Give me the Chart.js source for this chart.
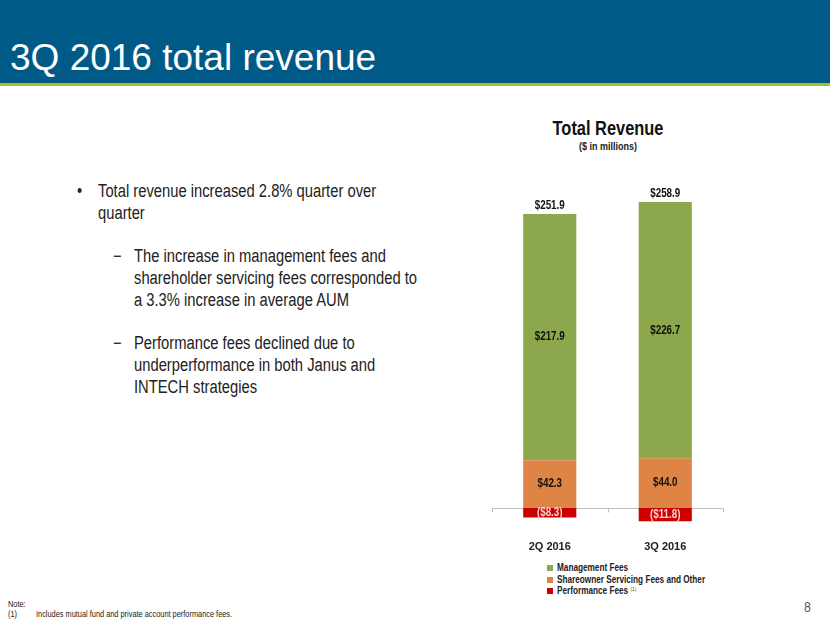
<!DOCTYPE html>
<html><head><meta charset="utf-8">
<script src="https://cdn.jsdelivr.net/npm/chart.js@4.4.1/dist/chart.umd.min.js"></script>
<style>
html,body{margin:0;padding:0;background:#fff;}
body{width:830px;height:623px;position:relative;overflow:hidden;font-family:'Liberation Sans',Arial,sans-serif;}
#hdr{position:absolute;left:0;top:0;width:830px;height:83px;background:#005A87;}
#hdrline{position:absolute;left:0;top:83px;width:830px;height:3px;background:#A6BD2E;}
#title{position:absolute;left:10px;top:39px;color:#fff;font-size:37px;line-height:37px;white-space:nowrap;}
.n{position:absolute;white-space:nowrap;transform-origin:0 50%;}
.c{transform-origin:50% 50%;text-align:center;}
.body{font-size:18px;line-height:22px;height:22px;color:#222;}
.leg{font-size:10px;line-height:12px;font-weight:bold;color:#222;}
.sq{position:absolute;width:6px;height:6px;}
.foot{font-size:9px;line-height:12px;color:#222;}
sup{font-size:6px;font-weight:normal;color:#555;vertical-align:top;position:relative;top:-2px;}
canvas{position:absolute;left:0;top:0;}
</style></head>
<body>
<div id="hdr"></div><div id="hdrline"></div>
<div id="title">3Q 2016 total revenue</div>
<div id="texts"></div>
<canvas id="chart" width="830" height="623"></canvas>
<script>
// ---- data ----
const categories = ['2Q 2016', '3Q 2016'];
const managementFees = [217.9, 226.7];
const shareownerFees = [42.3, 44.0];
const performanceFees = [-8.3, -11.8];
const seriesNames = ['Management Fees', 'Shareowner Servicing Fees and Other', 'Performance Fees'];
const seriesColors = ['#8DA74C', '#DE8445', '#CC0000'];
const chartTitle = 'Total Revenue';
const chartSubtitle = '($ in millions)';
const yMin = -20, yMax = 280;

// ---- font detection ----
function hasFont(name){
  const c=document.createElement('canvas').getContext('2d');
  const s='abcdefghijklmnopqrstuvwxyz0123456789';
  c.font='40px monospace'; const a=c.measureText(s).width;
  c.font="40px '"+name+"', monospace"; const b=c.measureText(s).width;
  return Math.abs(a-b)>1;
}
const narrow = hasFont('Liberation Sans Narrow');
const NF = narrow ? "'Liberation Sans Narrow'" : "'Liberation Sans'";
const NS = narrow ? 1 : 0.82;

// ---- HTML text ----
const T = document.getElementById('texts');
function addText(txt, cls, left, top, extra){
  const d=document.createElement('div');
  d.className='n '+cls; d.innerHTML=txt;
  d.style.left=left+'px'; d.style.top=top+'px';
  d.style.fontFamily=NF+',Arial,sans-serif';
  const sc = (extra && extra.noScale) ? 1 : NS;
  d.style.transform='scaleX('+sc+')';
  if(extra && extra.width){ d.style.width=extra.width+'px'; }
  if(extra && extra.style){ Object.assign(d.style, extra.style); }
  T.appendChild(d); return d;
}
const bodyLines = [
  ['\u2022', 77, 'Total revenue increased 2.8% quarter over', 98, 180],
  [null, 0, 'quarter', 98, 202],
  ['\u2212', 113, 'The increase in management fees and', 134, 245],
  [null, 0, 'shareholder servicing fees corresponded to', 134, 267],
  [null, 0, 'a 3.3% increase in average AUM', 134, 289],
  ['\u2212', 113, 'Performance fees declined due to', 134, 332],
  [null, 0, 'underperformance in both Janus and', 134, 354],
  [null, 0, 'INTECH strategies', 134, 376]
];
bodyLines.forEach(l=>{
  if(l[0]) addText(l[0],'body',l[1],l[4]);
  addText(l[2],'body',l[3],l[4]);
});
addText(chartTitle,'c',508,116,{width:200,style:{fontSize:'20px',lineHeight:'24px',fontWeight:'bold',color:'#111'}});
addText(chartSubtitle,'c',508,139,{width:200,style:{fontSize:'11px',lineHeight:'14px',fontWeight:'bold',color:'#222'}});
const legOrder=[0,1,2], legTops=[562,574,585];
legOrder.forEach((k,i)=>{
  const s=document.createElement('div'); s.className='sq';
  s.style.left='547px'; s.style.top=(legTops[i]+3)+'px'; s.style.background=seriesColors[k];
  T.appendChild(s);
  addText(seriesNames[k]+(k===2?' <sup>(1)</sup>':''),'leg',557,legTops[i]);
});
addText('Note:','foot',8,598);
addText('(1)','foot',8,608);
addText('Includes mutual fund and private account performance fees.','foot',36,608);
addText('8','',804,598,{style:{fontSize:'15px',lineHeight:'18px',color:'#595959'}});

// ---- chart ----
function fmt(v){ return v>=0 ? '$'+v.toFixed(1) : '($'+(-v).toFixed(1)+')'; }
function drawNarrow(ctx, txt, x, y, color, size){
  ctx.save();
  ctx.font='bold '+(size||12)+'px '+NF+', Arial, sans-serif';
  ctx.fillStyle=color; ctx.textAlign='center'; ctx.textBaseline='middle';
  ctx.translate(x,y); ctx.scale(NS,1); ctx.fillText(txt,0,0);
  ctx.restore();
}
const axisPlugin = {
  id:'zeroAxis',
  beforeDatasetsDraw(chart){
    const ctx=chart.ctx, xs=chart.scales.x, ys=chart.scales.y;
    const y0=Math.round(ys.getPixelForValue(0))+0.5;
    ctx.save(); ctx.strokeStyle='#BFBFBF'; ctx.lineWidth=1;
    ctx.beginPath(); ctx.moveTo(xs.left,y0); ctx.lineTo(xs.right,y0);
    for(let k=0;k<=categories.length;k++){
      const xk=Math.round(xs.getPixelForValue(k-0.5))+0.5;
      ctx.moveTo(xk,y0); ctx.lineTo(xk,y0+4);
    }
    ctx.stroke(); ctx.restore();
  }
};
const labelPlugin = {
  id:'segLabels',
  afterDatasetsDraw(chart){
    const ctx=chart.ctx, xs=chart.scales.x, ys=chart.scales.y;
    chart.data.datasets.forEach((ds,di)=>{
      const meta=chart.getDatasetMeta(di);
      meta.data.forEach((bar,i)=>{
        const p=bar.getProps(['x','y','base'],true);
        drawNarrow(ctx, fmt(ds.data[i]), p.x, (p.y+p.base)/2, ds.labelColor);
      });
    });
    categories.forEach((c,i)=>{
      const top=managementFees[i]+shareownerFees[i];
      const total=top+performanceFees[i];
      drawNarrow(ctx, fmt(total), xs.getPixelForValue(i), ys.getPixelForValue(top)-8, '#111');
    });
  }
};
new Chart(document.getElementById('chart'), {
  type:'bar',
  data:{
    labels:categories,
    datasets:[
      {label:seriesNames[1], data:shareownerFees, backgroundColor:seriesColors[1], stack:'s', labelColor:'#111'},
      {label:seriesNames[0], data:managementFees, backgroundColor:seriesColors[0], stack:'s', labelColor:'#111'},
      {label:seriesNames[2], data:performanceFees, backgroundColor:seriesColors[2], stack:'s', labelColor:'#F6D2D2'}
    ]
  },
  options:{
    responsive:false, animation:false, devicePixelRatio:1,
    layout:{padding:{left:492,right:107,top:191.6,bottom:59.2}},
    datasets:{bar:{barPercentage:0.46,categoryPercentage:1,borderWidth:0}},
    plugins:{legend:{display:false},tooltip:{enabled:false}},
    scales:{
      x:{stacked:true, offset:true,
        grid:{display:false,drawTicks:false}, border:{display:false},
        ticks:{padding:10,color:'#222',font:{family:"'Liberation Sans', Arial, sans-serif",size:11,weight:'bold',lineHeight:1.2}}},
      y:{stacked:true, display:false, min:yMin, max:yMax}
    }
  },
  plugins:[axisPlugin,labelPlugin]
});
</script>
</body></html>
